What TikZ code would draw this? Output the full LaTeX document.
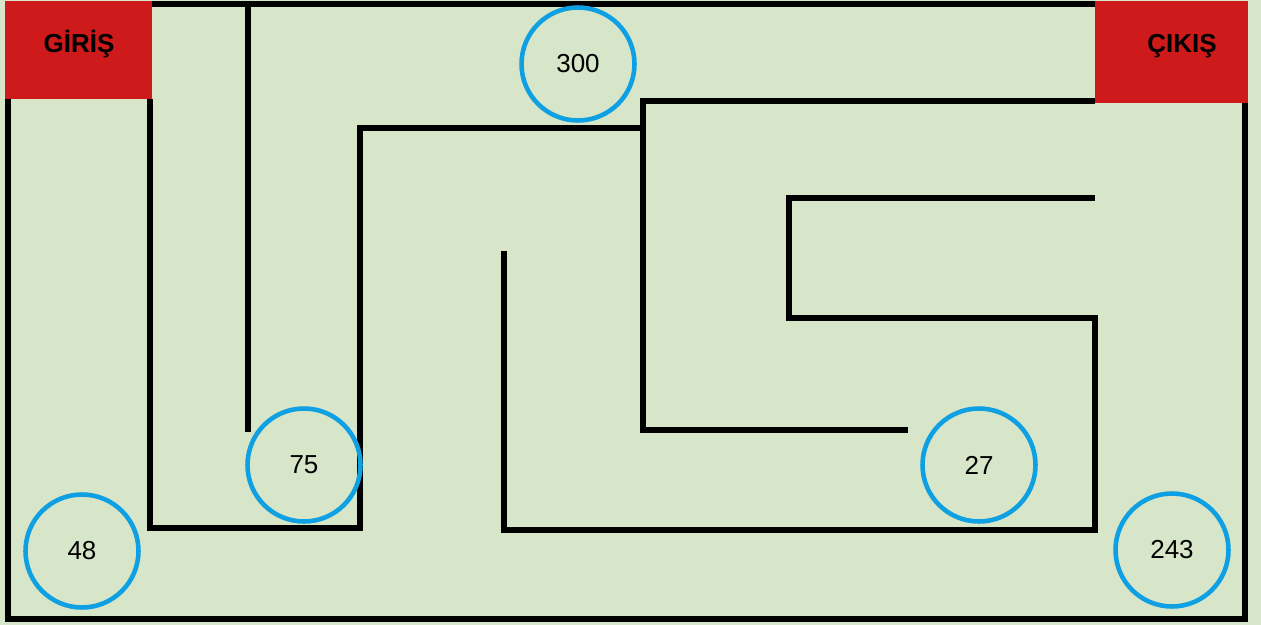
\documentclass[tikz,border=0pt]{standalone}
\usepackage{fontspec}
\setmainfont{Liberation Sans}
\usepackage{tikz}
\definecolor{mazegreen}{HTML}{D7E6C9}
\definecolor{gatered}{HTML}{CE1A1A}
\definecolor{ringblue}{HTML}{0EA0E2}
\begin{document}
\begin{tikzpicture}[x=0.02cm, y=-0.02cm,
wall/.style={draw=black, line width=3.1pt, line join=miter},
gate/.style={rectangle, fill=gatered, inner sep=0pt},
gatelabel/.style={font=\fontsize{14.8}{16}\selectfont\bfseries, anchor=base, inner sep=0pt},
score/.style={circle, draw=ringblue, line width=2.6pt, minimum size=2.26cm, inner sep=0pt, font=\fontsize{14.8}{16}\selectfont}
]
% Background and outer border
\fill[mazegreen] (0,0) rectangle (1261,625);
\useasboundingbox (0,0) rectangle (1261,625);
\draw[wall] (8,4) rectangle (1245,619);
% Inner walls
\draw[wall] (248,4) -- (248,432);
\draw[wall] (150,99) -- (150,528) -- (360,528) -- (360,128) -- (643,128);
\draw[wall] (1095,101) -- (643,101) -- (643,430) -- (908,430);
\draw[wall] (504,251) -- (504,530) -- (1095,530) -- (1095,318) -- (789,318) -- (789,198) -- (1095,198);
% Entry and exit
\node[gate, minimum width=2.94cm, minimum height=1.96cm] (entry) at (78.5,50) {};
\node[gate, minimum width=3.06cm, minimum height=2.04cm] (exit) at (1171.5,52) {};
\node[gatelabel] (entrytext) at (79,53) {GİRİŞ};
\node[gatelabel] (exittext) at (1182,53) {ÇIKIŞ};
% Scores
\node[score] (s300) at (578,64) {300};
\node[score] (s75) at (304,465) {75};
\node[score] (s48) at (82,551) {48};
\node[score] (s27) at (979,465) {27};
\node[score] (s243) at (1172,550) {243};
\end{tikzpicture}
\end{document}
